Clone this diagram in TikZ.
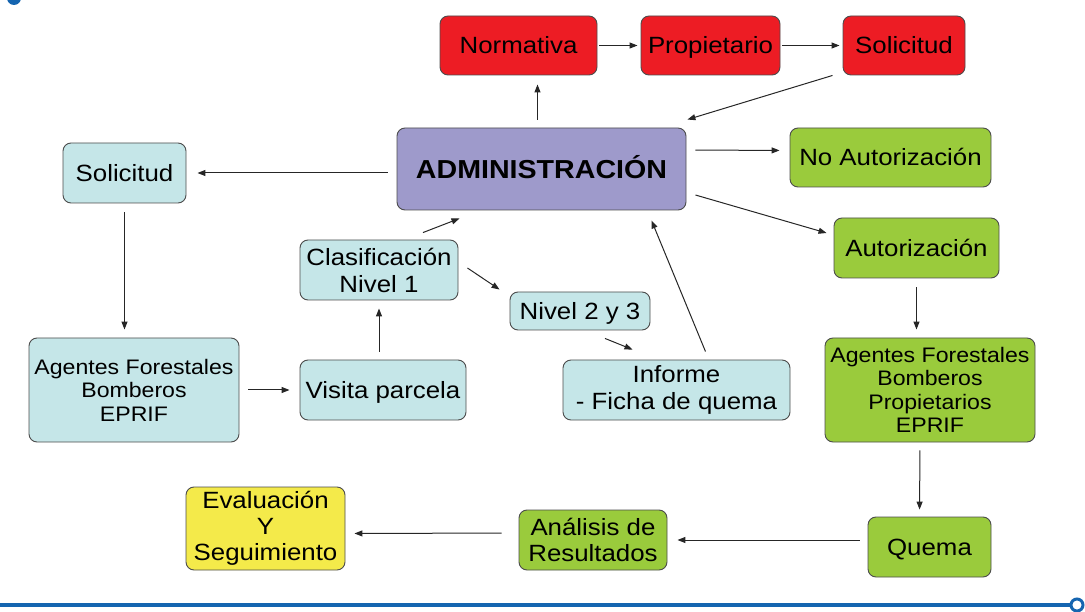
\documentclass[tikz,border=0pt]{standalone}
\usepackage{fontspec}
\setmainfont{Liberation Sans}[FakeStretch=1.1]
\usetikzlibrary{arrows.meta,calc}
\definecolor{cred}{HTML}{ED1C24}
\definecolor{cpurple}{HTML}{9E9ACB}
\definecolor{cblue}{HTML}{C5E6E8}
\definecolor{cgreen}{HTML}{9ACB3C}
\definecolor{cyellow}{HTML}{F4EA4A}
\definecolor{cline}{HTML}{1565B0}
\tikzset{
  box/.style={draw=black!70, rounded corners=8pt, line width=0.9pt, align=center,
    inner sep=0pt, font=\fontsize{23.5}{27}\selectfont},
  oneline/.style={text height=16.8pt, text depth=0pt},
  redbox/.style={box, oneline, fill=cred},
  bluebox/.style={box, fill=cblue},
  greenbox/.style={box, fill=cgreen},
  arr/.style={-{Triangle[length=8pt,width=6pt]}, line width=1pt, black!85},
}
\begin{document}
\begin{tikzpicture}[x=1pt,y=-1pt]
\useasboundingbox (0,0) rectangle (1085,612);
% decorations
\fill[cline] (14,-2) circle (7);
\draw[cline, line width=4pt] (0,605) -- (1071,605);
\draw[cline, line width=3pt, fill=white] (1077,605) circle (6);
% nodes
\node[redbox, minimum width=157pt, minimum height=59pt] (norm) at (518.5,45.5) {Normativa};
\node[redbox, minimum width=139pt, minimum height=59pt] (prop) at (710.5,45.5) {Propietario};
\node[redbox, minimum width=122pt, minimum height=59pt] (solr) at (904,45.5) {Solicitud};
\node[box, oneline, fill=cpurple, minimum width=289pt, minimum height=82pt,
      font=\fontsize{26}{30}\selectfont\bfseries, text height=18.5pt] (admin) at (541.5,169) {ADMINISTRACIÓN};
\node[bluebox, oneline, minimum width=123pt, minimum height=60pt] (solb) at (124.5,173) {Solicitud};
\node[greenbox, oneline, minimum width=201pt, minimum height=59pt] (noaut) at (890.5,157.5) {No Autorización};
\node[greenbox, oneline, minimum width=165pt, minimum height=60pt] (aut) at (916.5,248) {Autorización};
\node[bluebox, minimum width=158pt, minimum height=60pt] (clas) at (379,270) {Clasificación\\Nivel 1};
\node[bluebox, oneline, minimum width=140pt, minimum height=38pt] (niv) at (580,311) {Nivel 2 y 3};
\node[bluebox, minimum width=210pt, minimum height=104pt,
      font=\fontsize{21}{23.5}\selectfont] (agb) at (134,390) {Agentes Forestales\\Bomberos\\EPRIF};
\node[bluebox, oneline, minimum width=166pt, minimum height=60pt] (vis) at (383,390) {Visita parcela};
\node[bluebox, minimum width=227pt, minimum height=60pt] (inf) at (676.5,390) {Informe\\- Ficha de quema};
\node[greenbox, minimum width=210pt, minimum height=104pt,
      font=\fontsize{21}{23.5}\selectfont] (agg) at (930,390) {Agentes Forestales\\Bomberos\\Propietarios\\EPRIF};
\node[greenbox, oneline, minimum width=123pt, minimum height=60pt] (quema) at (929.5,547) {Quema};
\node[greenbox, minimum width=148pt, minimum height=60pt,
      font=\fontsize{23.5}{26}\selectfont] (ana) at (593,540) {Análisis de\\Resultados};
\node[box, fill=cyellow, minimum width=159pt, minimum height=83pt,
      font=\fontsize{23.5}{26}\selectfont] (eval) at (265.5,528.5) {Evaluación\\Y\\Seguimiento};
% connectors
\draw[arr, shorten <=8pt, shorten >=9pt] ([xshift=-4pt]admin.north) -- ([xshift=-4pt]admin.north |- norm.south);
\draw[arr, shorten <=2pt, shorten >=3pt] (norm.east) -- (prop.west);
\draw[arr, shorten <=2pt, shorten >=3pt] (prop.east) -- (solr.west);
\draw[arr] ([xshift=-10pt]solr.south west) -- ([shift={(1pt,8pt)}]admin.north east);
\draw[arr, shorten <=9pt, shorten >=11pt] (admin.west |- solb.east) -- (solb.east);
\draw[arr, shorten <=9pt, shorten >=10pt] ([yshift=19pt]admin.east) -- ([yshift=7pt]noaut.west);
\draw[arr] ([shift={(9pt,-26pt)}]admin.east) -- ([shift={(-7pt,15pt)}]aut.west);
\draw[arr, shorten <=9pt, shorten >=8pt] (solb.south) -- (solb.south |- agb.north);
\draw[arr, shorten <=9pt, shorten >=10pt] (agb.east) -- (vis.west);
\draw[arr, shorten <=8pt, shorten >=8pt] (clas.south |- vis.north) -- (clas.south);
\draw[arr] ([shift={(44pt,7pt)}]clas.north) -- ([shift={(-82pt,-8pt)}]admin.south);
\draw[arr] ([shift={(9pt,2pt)}]clas.east) -- ([shift={(-10pt,2pt)}]niv.north west);
\draw[arr] ([shift={(25pt,-8pt)}]niv.south) -- ([shift={(-44pt,10pt)}]inf.north);
\draw[arr] ([shift={(29pt,8pt)}]inf.north) -- ([shift={(110pt,-10pt)}]admin.south);
\draw[arr, shorten <=9pt, shorten >=8pt] (aut.south) -- (aut.south |- agg.north);
\draw[arr, shorten <=8pt, shorten >=7pt] ([xshift=-10pt]agg.south) -- ([xshift=-10pt]quema.north);
\draw[arr, shorten <=8pt, shorten >=10pt] (quema.west |- ana.east) -- (ana.east);
\draw[arr, shorten <=17pt, shorten >=9pt] ([yshift=7pt]ana.west) -- ([yshift=-5pt]eval.east);
\end{tikzpicture}
\end{document}
